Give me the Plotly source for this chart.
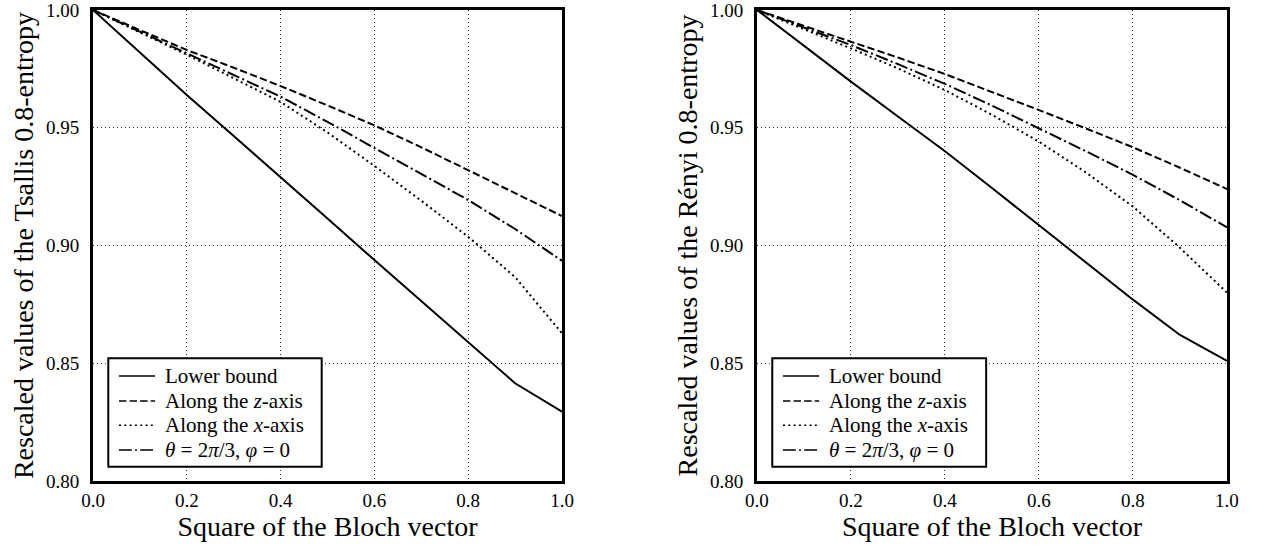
import plotly.graph_objects as go

# ---------------- data ----------------
bloch_sq = [0.0, 0.1, 0.2, 0.3, 0.4, 0.5, 0.6, 0.7, 0.8, 0.9, 1.0]

series_names = [
    "Lower bound",
    "Along the <i>z</i>-axis",
    "Along the <i>x</i>-axis",
    "<i>θ</i> = 2<i>π</i>/3, <i>φ</i> = 0",
]

# Tsallis 0.8-entropy (left panel)
tsallis_lower = [1.0, 0.9820, 0.9639, 0.9465, 0.9292, 0.9115, 0.8938, 0.8764, 0.8590, 0.8415, 0.8294]
tsallis_z     = [1.0, 0.9915, 0.9830, 0.9755, 0.9677, 0.9595, 0.9510, 0.9417, 0.9320, 0.9225, 0.9125]
tsallis_x     = [1.0, 0.9905, 0.9810, 0.9710, 0.9610, 0.9480, 0.9338, 0.9190, 0.9037, 0.8866, 0.8627]
tsallis_theta = [1.0, 0.9908, 0.9816, 0.9726, 0.9632, 0.9525, 0.9414, 0.9305, 0.9193, 0.9070, 0.8935]

# Renyi 0.8-entropy (right panel)
renyi_lower = [1.0, 0.9848, 0.9696, 0.9548, 0.9400, 0.9244, 0.9087, 0.8929, 0.8770, 0.8620, 0.8510]
renyi_z     = [1.0, 0.9933, 0.9866, 0.9798, 0.9728, 0.9653, 0.9575, 0.9497, 0.9417, 0.9330, 0.9240]
renyi_x     = [1.0, 0.9920, 0.9837, 0.9752, 0.9660, 0.9555, 0.9441, 0.9310, 0.9165, 0.8990, 0.8800]
renyi_theta = [1.0, 0.9926, 0.9851, 0.9770, 0.9686, 0.9594, 0.9498, 0.9400, 0.9300, 0.9192, 0.9077]

x_ticks = [0.0, 0.2, 0.4, 0.6, 0.8, 1.0]
y_ticks = [0.80, 0.85, 0.90, 0.95, 1.00]

x_title = "Square of the Bloch vector"
y_title_left = "Rescaled values of the Tsallis 0.8-entropy"
y_title_right = "Rescaled values of the Rényi 0.8-entropy"

# ---------------- styles ----------------
FONT = "Liberation Serif, Times New Roman, DejaVu Serif, serif"
dashes = ["solid", "7.4px,3.2px", "2px,3.3px", "12.8px,3.2px,2px,3.2px"]

fig = go.Figure()

panels = [
    ("x", "y", [tsallis_lower, tsallis_z, tsallis_x, tsallis_theta]),
    ("x2", "y2", [renyi_lower, renyi_z, renyi_x, renyi_theta]),
]
for xa, ya, data in panels:
    for name, vals, dash in zip(series_names, data, dashes):
        fig.add_trace(go.Scatter(
            x=bloch_sq, y=vals, mode="lines", name=name,
            line=dict(color="black", width=2, dash=dash),
            xaxis=xa, yaxis=ya, showlegend=False,
        ))

# ---- legend boxes (drawn in axis-domain coordinates of each panel) ----
leg_box = dict(x0=0.0326, x1=0.4876, y0=0.0304, y1=0.2605)
leg_sample_x = (0.0554, 0.1322)
leg_text_x = 0.150
leg_rows_y = [0.2229, 0.1701, 0.1185, 0.0660]

shapes = []
annotations = []
for xa, ya in [("x", "y"), ("x2", "y2")]:
    xr, yr = xa + " domain", ya + " domain"
    shapes.append(dict(type="rect", xref=xr, yref=yr, layer="above",
                       fillcolor="white", line=dict(color="black", width=2), **leg_box))
    for name, dash, yy in zip(series_names, dashes, leg_rows_y):
        shapes.append(dict(type="line", xref=xr, yref=yr, layer="above",
                           x0=leg_sample_x[0], x1=leg_sample_x[1], y0=yy, y1=yy,
                           line=dict(color="black", width=1.5, dash=dash)))
        annotations.append(dict(xref=xr, yref=yr, x=leg_text_x, y=yy, text=name,
                                showarrow=False, xanchor="left", yanchor="middle",
                                font=dict(family=FONT, size=21, color="black")))

axis_common = dict(
    showline=True, mirror=True, linewidth=3, linecolor="black",
    showgrid=True, gridcolor="#333333", gridwidth=1, griddash="1px,3px",
    zeroline=False, ticks="", automargin=False, ticklabeloverflow="allow",
    tickfont=dict(family=FONT, size=19, color="black"),
)

xa = dict(axis_common, range=[0, 1], tickvals=x_ticks, tickformat=".1f",
          title=dict(text=x_title, font=dict(family=FONT, size=28, color="black"), standoff=4))
ya = dict(axis_common, range=[0.8, 1.0], tickvals=y_ticks, tickformat=".2f",
          ticklabelstandoff=7,
          title=dict(font=dict(family=FONT, size=28, color="black"), standoff=5))

fig.update_layout(
    width=1265, height=548,
    margin=dict(l=93, r=38, t=10, b=67),
    paper_bgcolor="white", plot_bgcolor="white",
    showlegend=False,
    xaxis=dict(xa, domain=[0.0, 0.4136], anchor="y"),
    yaxis=dict(ya, domain=[0.0, 1.0], anchor="x", title=dict(ya["title"], text=y_title_left)),
    xaxis2=dict(xa, domain=[0.5855, 1.0], anchor="y2"),
    yaxis2=dict(ya, domain=[0.0, 1.0], anchor="x2", title=dict(ya["title"], text=y_title_right)),
    shapes=shapes,
    annotations=annotations,
)

fig.write_html("out.html", config={"displayModeBar": False},
               post_script="document.body.style.margin='0px';")
